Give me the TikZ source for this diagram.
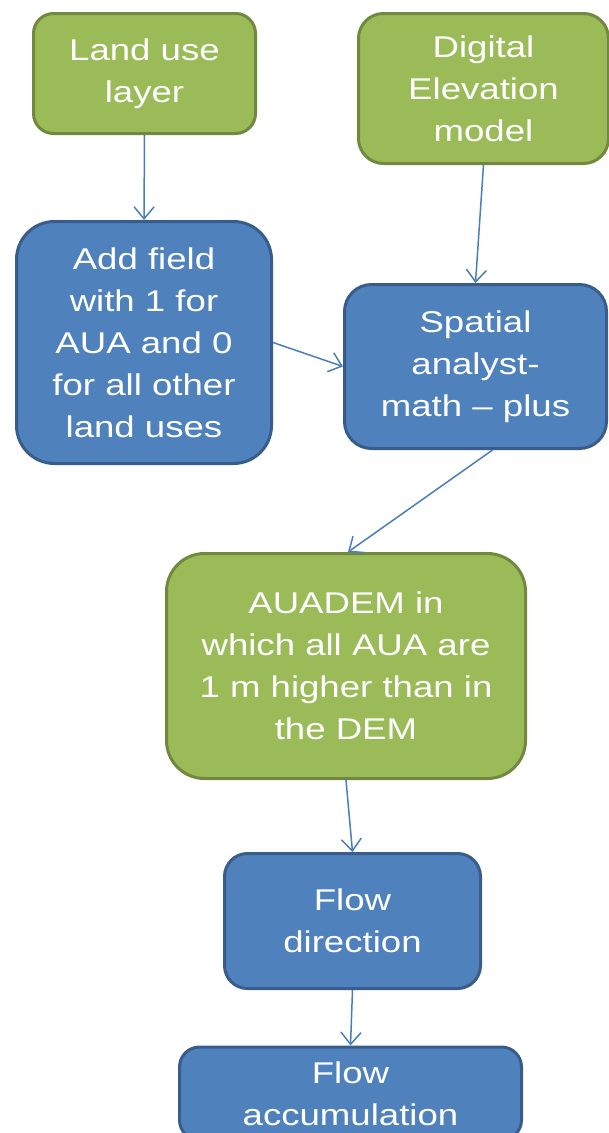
\documentclass[tikz,border=0pt]{standalone}
\usepackage{fontspec}
\setmainfont{Liberation Sans}[FakeStretch=1.22]
\usepackage{tikz}
\usetikzlibrary{arrows.meta}

\definecolor{boxgreen}{HTML}{9BBB59}
\definecolor{boxgreenline}{HTML}{71893F}
\definecolor{boxblue}{HTML}{4F81BD}
\definecolor{boxblueline}{HTML}{385D8A}
\definecolor{arrowblue}{HTML}{4A7EBB}

\begin{document}
\begin{tikzpicture}[x=1pt,y=-1pt,
    box/.style={rectangle,line width=3pt,text=white,align=center,inner sep=0pt,
      font=\fontsize{30}{42}\selectfont},
    greenbox/.style={box,fill=boxgreen,draw=boxgreenline},
    bluebox/.style={box,fill=boxblue,draw=boxblueline},
    flow/.style={draw=arrowblue,line width=1.5pt,-{Straight Barb[length=12pt,width=20pt]}}]
    \clip (0,0) rectangle (609,1133);
    \fill[white] (0,0) rectangle (609,1133);
    \node[greenbox,minimum width=222pt,minimum height=120pt,rounded corners=20pt] (landuse) at (144.5,73.5) {Land use\\layer};
    \node[greenbox,minimum width=250pt,minimum height=150pt,rounded corners=25pt] (dem) at (483.5,88.5) {Digital\\Elevation\\model};
    \node[bluebox,minimum width=255pt,minimum height=242pt,rounded corners=38pt] (addfield) at (144,342.5) {Add field\\with 1 for\\AUA and 0\\for all other\\land uses};
    \node[bluebox,minimum width=262pt,minimum height=164pt,rounded corners=27pt] (spatial) at (475.5,366.5) {Spatial\\analyst-\\math -- plus};
    \node[greenbox,minimum width=359pt,minimum height=225pt,rounded corners=38pt] (auadem) at (346,666) {AUADEM in\\which all AUA are\\1 m higher than in\\the DEM};
    \node[bluebox,minimum width=256pt,minimum height=135pt,rounded corners=23pt] (flowdir) at (352.5,921) {Flow\\direction};
    \node[bluebox,minimum width=342pt,minimum height=93pt,rounded corners=20pt] (flowacc) at (350.5,1093.5) {Flow\\accumulation};
    \draw[flow] (landuse.south) -- (addfield.north);
    \draw[flow] (dem.south) -- (spatial.north);
    \draw[flow] (addfield.east) -- (spatial.west);
    \draw[flow] ([xshift=17pt]spatial.south) -- ([xshift=2pt]auadem.north);
    \draw[flow] (auadem.south) -- (flowdir.north);
    \draw[flow] (flowdir.south) -- (flowacc.north);
\end{tikzpicture}
\end{document}
